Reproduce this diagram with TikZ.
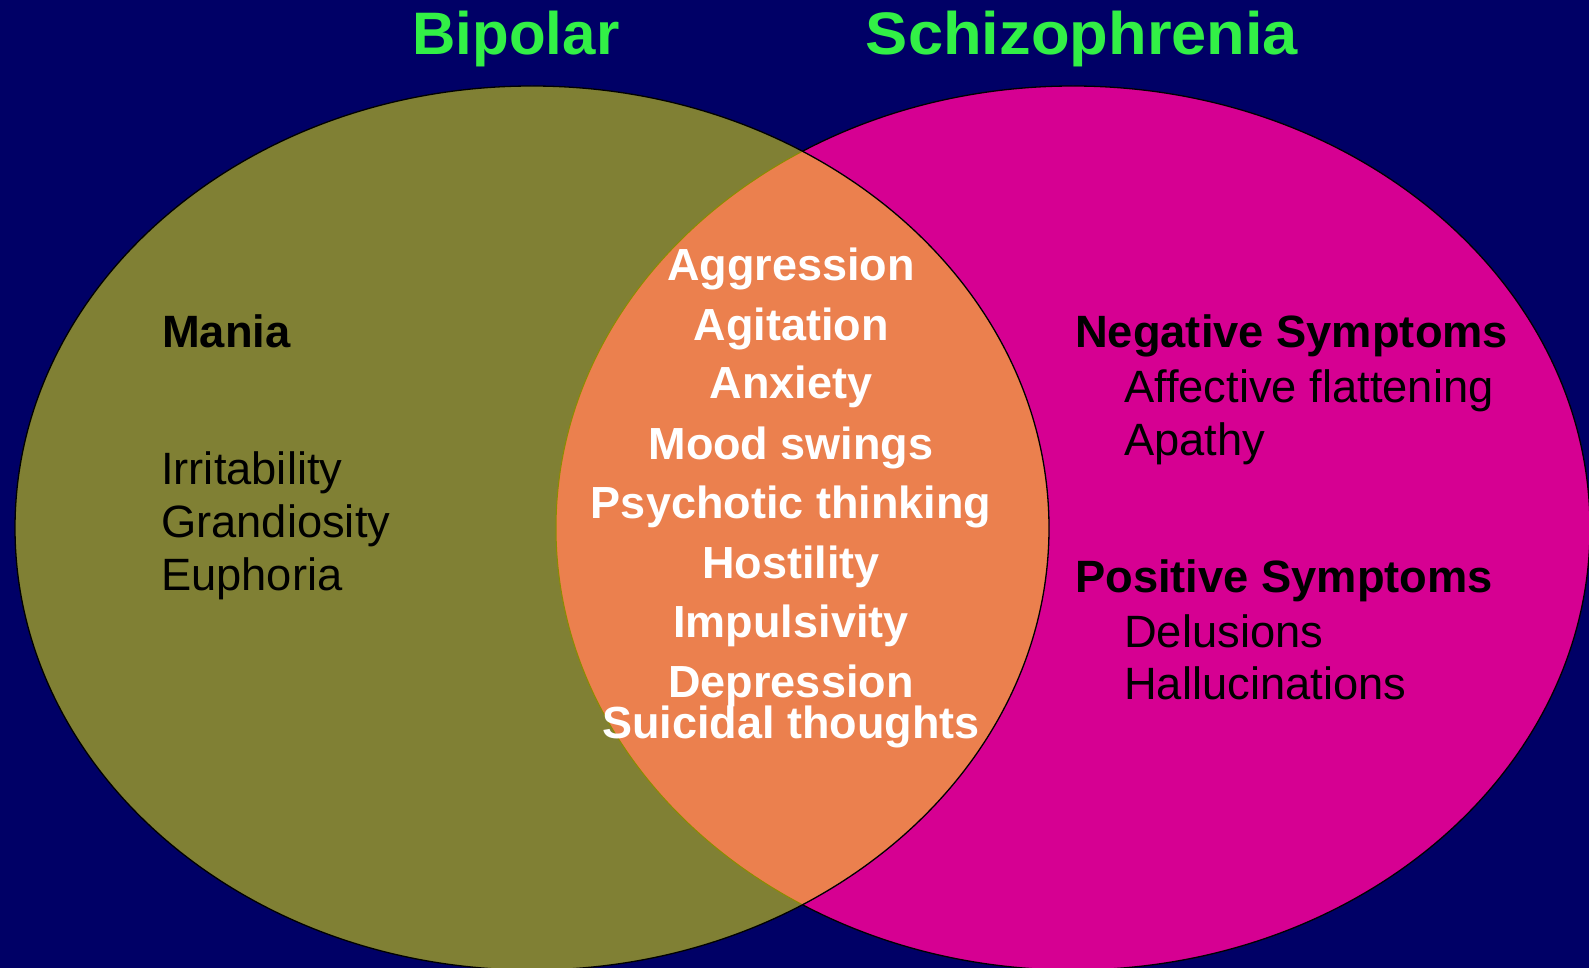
\documentclass[tikz,border=0pt]{standalone}
\usepackage{fontspec}
\setmainfont{Liberation Sans}
\definecolor{bgnavy}{RGB}{0,0,102}
\definecolor{olivefill}{RGB}{128,128,52}
\definecolor{magfill}{RGB}{214,0,146}
\definecolor{orangefill}{RGB}{235,128,78}
\definecolor{titlegreen}{RGB}{50,240,70}
\definecolor{oliveedge}{RGB}{140,140,0}
\tikzset{
  titletext/.style={anchor=base, inner sep=0pt, text=titlegreen, font=\fontsize{60}{72}\selectfont\bfseries},
  midtext/.style={anchor=base, inner sep=0pt, text=white, font=\fontsize{45}{54}\selectfont\bfseries},
  headtext/.style={anchor=base west, inner sep=0pt, text=black, font=\fontsize{45.3}{54}\selectfont\bfseries},
  itemtext/.style={anchor=base west, inner sep=0pt, text=black, font=\fontsize{45.3}{54}\selectfont},
  outline/.style={draw=black, line width=1.3pt}
}
\begin{document}
\begin{tikzpicture}[x=1pt,y=-1pt]
\useasboundingbox (0,0) rectangle (1589,968);
\fill[bgnavy] (0,0) rectangle (1589,968);
\clip (0,0) rectangle (1589,968);
% circles
\coordinate (lc) at (532,528);
\coordinate (rc) at (1073,528);
\fill[magfill] (rc) ellipse [x radius=517pt, y radius=442pt];
\draw[outline] (rc) ellipse [x radius=517pt, y radius=442pt];
\fill[olivefill] (lc) ellipse [x radius=517pt, y radius=442pt];
\begin{scope}
  \clip (lc) ellipse [x radius=517pt, y radius=442pt];
  \fill[orangefill] (rc) ellipse [x radius=517pt, y radius=442pt];
  \draw[oliveedge, line width=1pt] (rc) ellipse [x radius=517pt, y radius=442pt];
\end{scope}
\draw[outline] (lc) ellipse [x radius=517pt, y radius=442pt];
% titles
\node[titletext] (tbip) at (516,55) {Bipolar};
\node[titletext] (tsch) at (1082,55) {\scalebox{1.054}[1]{Schizophrenia}};
% left
\node[headtext] (mania) at (162,347) {Mania};
\node[itemtext] (irr) at (161,484) {Irritability};
\node[itemtext] (gra) at (161,537) {Grandiosity};
\node[itemtext] (eup) at (161,590) {Euphoria};
% middle
\node[midtext] (m1) at (791,280) {Aggression};
\node[midtext] (m2) at (791,340) {Agitation};
\node[midtext] (m3) at (791,398) {Anxiety};
\node[midtext] (m4) at (791,459) {Mood swings};
\node[midtext] (m5) at (791,518) {Psychotic thinking};
\node[midtext] (m6) at (791,578) {Hostility};
\node[midtext] (m7) at (791,637) {Impulsivity};
\node[midtext] (m8) at (791,697) {Depression};
\node[midtext] (m9) at (791,738) {Suicidal thoughts};
% right
\node[headtext] (neg) at (1075,347) {Negative Symptoms};
\node[itemtext] (aff) at (1124,402) {Affective flattening};
\node[itemtext] (apa) at (1124,455) {Apathy};
\node[headtext] (pos) at (1075,592) {Positive Symptoms};
\node[itemtext] (del) at (1124,647) {Delusions};
\node[itemtext] (hal) at (1124,699) {Hallucinations};
\end{tikzpicture}
\end{document}
